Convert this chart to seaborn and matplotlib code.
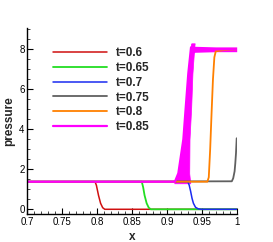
import numpy as np
import pandas as pd
import seaborn as sns
import matplotlib
matplotlib.use('Agg')
import matplotlib.pyplot as plt

# pressure profiles
labels = ['t=0.6', 't=0.65', 't=0.7', 't=0.75', 't=0.8', 't=0.85']
colors = ['#d01010', '#22dd22', '#1a2bf0', '#606060', '#ff8000', '#ff00ff']
widths = [1.1, 1.3, 1.1, 1.3, 1.3, 1.6]

x_06 = [0.7, 0.797, 0.799, 0.802, 0.805, 0.808, 0.811, 1.0]
p_06 = [1.38, 1.38, 1.2, 0.7, 0.3, 0.08, 0.0, 0.0]

x_065 = [0.7, 0.864, 0.866, 0.868, 0.871, 0.874, 0.877, 1.0]
p_065 = [1.38, 1.38, 1.1, 0.7, 0.3, 0.08, 0.0, 0.0]

x_07 = [0.7, 0.930, 0.932, 0.934, 0.936, 0.938, 0.941, 0.945, 0.95, 1.0]
p_07 = [1.38, 1.38, 1.2, 0.9, 0.55, 0.3, 0.1, 0.02, 0.0, 0.0]

x_075 = [0.7, 0.993, 0.995, 0.997, 0.998, 0.999, 1.0]
p_075 = [1.38, 1.40, 1.55, 1.9, 2.3, 2.8, 3.55]

x_08 = [0.7, 0.958, 0.960, 0.962, 0.964, 0.966, 0.968, 0.970, 0.98, 1.0]
p_08 = [1.38, 1.38, 1.6, 3.0, 4.8, 6.5, 7.6, 7.9, 7.95, 8.0]

x_085 = [0.7, 0.9115, 0.9164, 0.9236, 0.927, 0.9307, 0.9346, 0.94, 1.0]
p_085 = [1.38, 1.38, 1.8, 3.5, 5.1, 6.8, 8.1, 8.0, 8.0]

# thick noisy band of the t=0.85 curve
band_p = [1.3, 1.8, 3.5, 5.1, 6.8, 8.1, 8.3]
band_left = [0.9105, 0.9160, 0.9232, 0.9266, 0.9303, 0.9342, 0.9350]
band_right = [0.9335, 0.9320, 0.9324, 0.9348, 0.9366, 0.9392, 0.9398]
plat_x = [0.9346, 0.94, 0.97, 1.0]
plat_lo = [7.75, 7.85, 7.88, 7.88]
plat_hi = [8.3, 8.15, 8.12, 8.12]

xticks = [0.7, 0.75, 0.8, 0.85, 0.9, 0.95, 1.0]
xticklabels = ['0.7', '0.75', '0.8', '0.85', '0.9', '0.95', '1']
yticks = [0, 2, 4, 6, 8]

series = [(x_06, p_06), (x_065, p_065), (x_07, p_07),
          (x_075, p_075), (x_08, p_08), (x_085, p_085)]

sns.set_style('ticks')
plt.rcParams['font.family'] = ['Liberation Sans', 'DejaVu Sans']

fig = plt.figure(figsize=(2.73, 2.42), dpi=100)
ax = fig.add_axes([0.1, 0.1145, 0.767, 0.7686])

for (xs, ps), lab, c, lw in zip(series, labels, colors, widths):
    df = pd.DataFrame({'x': xs, 'p': ps})
    sns.lineplot(data=df, x='x', y='p', color=c, linewidth=lw, label=lab,
                 sort=False, estimator=None, ax=ax)

ax.fill_betweenx(band_p, band_left, band_right, color=colors[5], linewidth=0.5)
ax.fill_between(plat_x, plat_lo, plat_hi, color=colors[5], linewidth=0)

ax.set_xlim(0.7, 1.0)
ax.set_ylim(-0.25, 9.05)
ax.set_xticks(xticks)
ax.set_xticklabels(xticklabels)
ax.set_yticks(yticks)
ax.set_xticks(np.arange(0.7, 1.0001, 0.01), minor=True)
ax.set_yticks(np.arange(0, 9.01, 0.5), minor=True)
ax.tick_params(which='major', direction='in', length=4, width=0.8,
               labelsize=7, pad=2, colors='black')
ax.tick_params(which='minor', direction='in', length=2, width=0.6)
sns.despine(ax=ax)
for s in ['left', 'bottom']:
    ax.spines[s].set_linewidth(1.0)
    ax.spines[s].set_color('black')

ax.set_xlabel('x', fontsize=8.5, fontweight='bold', labelpad=3)
ax.set_ylabel('pressure', fontsize=8.5, fontweight='bold', labelpad=3)

leg = ax.legend(loc='upper left', bbox_to_anchor=(0.121, 0.897), frameon=False,
                borderpad=0, borderaxespad=0, handlelength=4.6,
                handletextpad=0.75, labelspacing=0.23,
                prop={'size': 8.5, 'weight': 'bold'})

fig.savefig('out.png', dpi=100)
